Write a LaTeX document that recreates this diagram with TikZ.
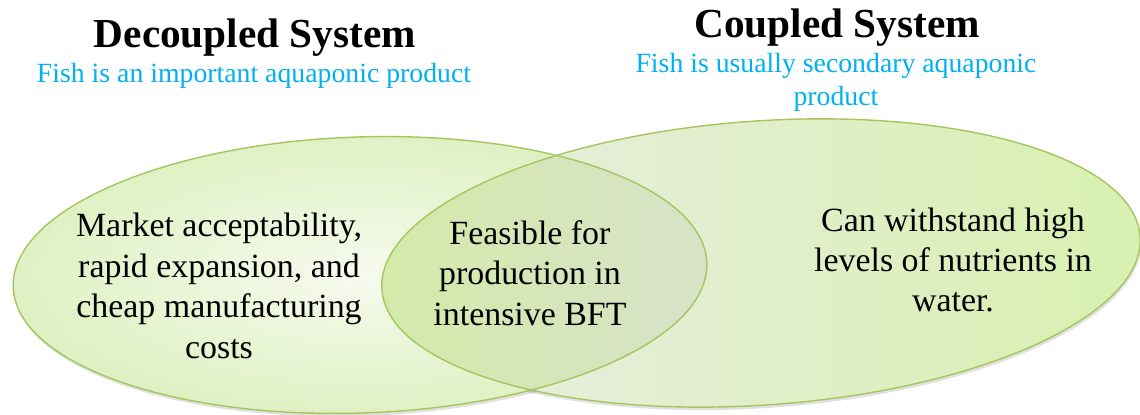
\documentclass[tikz,border=0pt]{standalone}
\usepackage{fontspec}
\setmainfont{Liberation Serif}
\usetikzlibrary{positioning}

\definecolor{setedge}{RGB}{165,198,92}
\definecolor{setlight}{RGB}{246,250,238}
\definecolor{setgreen}{RGB}{222,241,194}
\definecolor{setlime}{RGB}{216,240,176}
\definecolor{setgrey}{RGB}{234,237,228}
\definecolor{mixlime}{RGB}{212,234,170}
\definecolor{mixgrey}{RGB}{216,226,200}
\definecolor{subblue}{RGB}{0,176,240}

\begin{document}
\begin{tikzpicture}[x=0.02cm, y=0.02cm,
    title/.style={font=\fontsize{23.5}{28}\selectfont\bfseries, anchor=base},
    subtitle/.style={font=\fontsize{15.8}{18.5}\selectfont, text=subblue, align=center},
    body/.style={font=\fontsize{19.3}{23}\selectfont, align=center},
    setline/.style={draw=setedge, line width=0.8pt},
    setshadow/.style={fill=black, opacity=0.12}
]
\useasboundingbox (0,0) rectangle (1140,415);

% soft shadows under the sets
\fill[setshadow] (361,137) ellipse [x radius=347, y radius=138, rotate=2];
\fill[setshadow] (762,149) ellipse [x radius=380, y radius=142, rotate=4];

% the two sets
\shade[inner color=setlight, outer color=setgreen] (360,140) ellipse [x radius=347, y radius=138, rotate=2];
\shade[left color=setgrey, right color=setlime] (761,152) ellipse [x radius=380, y radius=142, rotate=4];
% overlap of both sets
\begin{scope}
  \clip (761,152) ellipse [x radius=380, y radius=142, rotate=4];
  \clip (360,140) ellipse [x radius=347, y radius=138, rotate=2];
  \shade[left color=mixlime, right color=mixgrey] (383,0) rectangle (708,415);
\end{scope}
\draw[setline] (360,140) ellipse [x radius=347, y radius=138, rotate=2];
\draw[setline] (761,152) ellipse [x radius=380, y radius=142, rotate=4];

% headings
\node[title] (decoupled) at (255,367) {Decoupled System};
\node[title] (coupled) at (837,377) {Coupled System};
\node[subtitle, anchor=base] (fishmain) at (254,332) {Fish is an important aquaponic product};
\node[subtitle] (fishsecond) at (836,332.5) {Fish is usually secondary aquaponic\\product};

% contents of the sets
\node[body] (market) at (219,129) {Market acceptability,\\rapid expansion, and\\cheap manufacturing\\costs};
\node[body] (feasible) at (530,142) {Feasible for\\production in\\intensive BFT};
\node[body] (withstand) at (953,155) {Can withstand high\\levels of nutrients in\\water.};
\end{tikzpicture}
\end{document}
